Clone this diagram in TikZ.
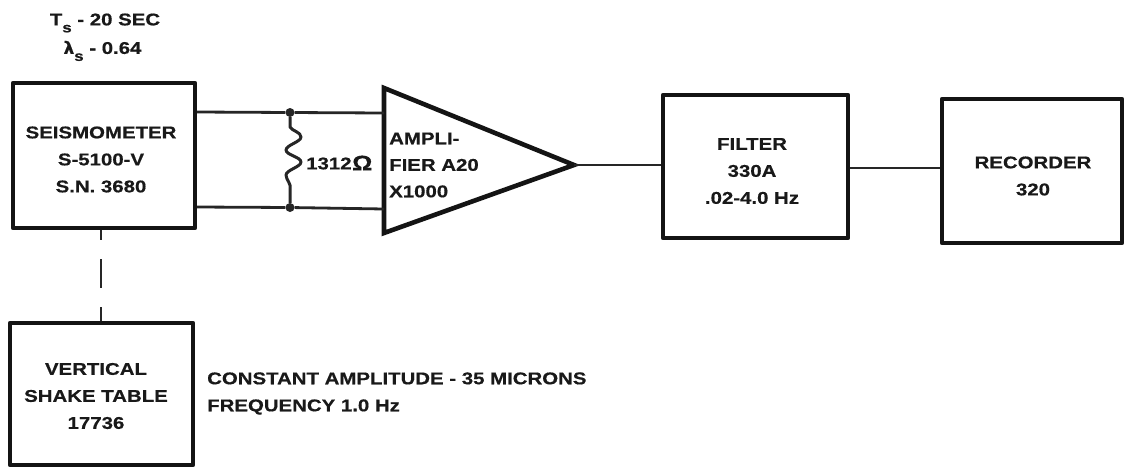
\documentclass[tikz,border=0pt]{standalone}
\usepackage{fontspec}
\setmainfont[FakeStretch=1.2,BoldFeatures={FakeBold=0.5}]{Liberation Sans}
\newfontfamily\lamfont[BoldFeatures={FakeBold=0.5}]{DejaVu Sans}
\usetikzlibrary{calc}
\tikzset{
 box/.style={draw=black!92,line width=4.2pt,rectangle,inner sep=0pt,line join=round},
 wire/.style={draw=black!85,line width=2.8pt},
 lab/.style={font=\bfseries\fontsize{17}{27}\selectfont,text=black!90,align=center,inner sep=0pt},
 note/.style={font=\bfseries\fontsize{17}{27}\selectfont,text=black!90,align=left,inner sep=0pt,anchor=west},
 dotn/.style={circle,fill=black!85,inner sep=0pt,minimum size=9pt}
}
\newcommand{\subs}{\raisebox{-7pt}{\fontsize{14}{14}\selectfont s}}
\begin{document}
\begin{tikzpicture}[x=1pt,y=-1pt]
\useasboundingbox (0,0) rectangle (1126,469);
\fill[white] (0,0) rectangle (1126,469);
% boxes
\node[box,minimum width=182pt,minimum height=145pt] (seis) at (104,155.5) {};
\node[box,minimum width=183pt,minimum height=142pt] (shake) at (101.5,394) {};
\node[box,minimum width=185pt,minimum height=143pt] (filt) at (755.5,166.5) {};
\node[box,minimum width=180pt,minimum height=144pt] (rec) at (1032,171) {};
\node[lab] (seistext) at (101,159.5) {SEISMOMETER\\S-5100-V\\S.N. 3680};
\node[lab] (shaketext) at (96,396) {VERTICAL\\SHAKE TABLE\\17736};
\node[lab] (filttext) at (752,171) {FILTER\\330A\\.02-4.0 Hz};
\node[lab] (rectext) at (1033,176) {RECORDER\\320};
% amplifier
\coordinate (ampA) at (384,88);
\coordinate (ampB) at (384,233);
\coordinate (ampT) at (574,165);
\draw[box,line width=4.6pt,line join=miter] (ampA) -- (ampT) -- (ampB) -- cycle;
\node[lab,align=left,anchor=west,font=\bfseries\fontsize{17}{26.5}\selectfont] (amptext) at (389,165) {AMPLI-\\FIER A20\\X1000};
% junctions
\coordinate (sU) at (seis.east |- 0,112);
\coordinate (sL) at (seis.east |- 0,207);
\coordinate (aU) at (384,113);
\coordinate (aL) at (384,209);
\node[dotn] (dU) at (290,112.5) {};
\node[dotn] (dL) at (290,207.5) {};
\draw[wire] (sU) -- (dU) -- (aU);
\draw[wire] (sL) -- (dL) -- (aL);
% resistor
\coordinate (r1) at (290,127);
\coordinate (r2) at (290,190);
\draw[wire,line width=3pt,line join=round] (dU) -- (r1)
  .. controls (292,131) and (301,132) .. (301,137)
  .. controls (301,142) and (286,145) .. (286,150)
  .. controls (286,155) and (301,157) .. (301,162)
  .. controls (301,167) and (286,170) .. (286,175)
  .. controls (286,180) and (292,184) .. (r2) -- (dL);
\node[lab,anchor=west] (rlab) at (306,163.5) {1312};
\node[inner sep=0pt,anchor=west,font=\bfseries\fontsize{21}{21}\selectfont,text=black!90] (omega) at (352,163) {Ω};
% series
\draw[wire] (ampT) -- (filt.west |- ampT);
\coordinate (fE) at (filt.east |- 0,168);
\draw[wire] (fE) -- (rec.west |- fE);
% dashed mechanical link
\coordinate (d1) at (seis.south -| 101,0);
\coordinate (d2) at (101,240);
\coordinate (d3) at (101,259);
\coordinate (d4) at (101,288);
\coordinate (d5) at (101,307);
\coordinate (d6) at (shake.north -| 101,0);
\draw[wire] (d1) -- (d2);
\draw[wire] (d3) -- (d4);
\draw[wire] (d5) -- (d6);
% notes
\node[lab,font=\bfseries\fontsize{17}{17}\selectfont] (ts) at (105,23) {T\subs{} - 20 SEC};
\node[lab,font=\bfseries\fontsize{17}{17}\selectfont] (ls) at (102.5,51) {{\lamfont λ}\subs{} - 0.64};
\node[note] (const) at (207,393.5) {CONSTANT AMPLITUDE - 35 MICRONS\\FREQUENCY 1.0 Hz};
\end{tikzpicture}
\end{document}
